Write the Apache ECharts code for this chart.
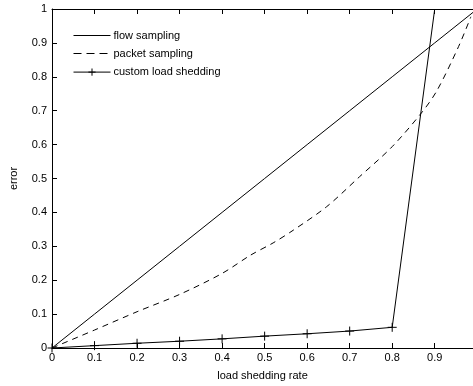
<!DOCTYPE html>
<html>
<head>
<meta charset="utf-8">
<script src="https://cdn.jsdelivr.net/npm/echarts@6/dist/echarts.min.js"></script>
<style>html,body{margin:0;padding:0;background:#fff;}#c{width:473px;height:386px;}</style>
</head>
<body>
<div id="c"></div>
<script>
const seriesNames = ['flow sampling', 'packet sampling', 'custom load shedding'];
const flowX = [0, 0.1, 0.2, 0.3, 0.4, 0.5, 0.6, 0.7, 0.8, 0.9, 0.99];
const flowY = [0, 0.1, 0.2, 0.3, 0.4, 0.5, 0.6, 0.7, 0.8, 0.9, 0.99];
const packetX = [0, 0.1, 0.2, 0.3, 0.4, 0.467, 0.52, 0.568, 0.646, 0.723, 0.8, 0.871, 0.906, 0.956, 0.985];
const packetY = [0, 0.053, 0.107, 0.158, 0.22, 0.274, 0.31, 0.348, 0.417, 0.505, 0.594, 0.697, 0.761, 0.889, 0.977];
const customX = [0, 0.1, 0.2, 0.3, 0.4, 0.5, 0.6, 0.7, 0.8, 0.9];
const customY = [0, 0.007, 0.014, 0.02, 0.027, 0.035, 0.042, 0.05, 0.061, 1.0];
const xTicks = [0, 0.1, 0.2, 0.3, 0.4, 0.5, 0.6, 0.7, 0.8, 0.9];
const yTicks = [0, 0.1, 0.2, 0.3, 0.4, 0.5, 0.6, 0.7, 0.8, 0.9, 1];

const font = 'Liberation Sans, Arial, Helvetica, sans-serif';
const zip = (xs, ys) => xs.map((x, i) => [x, ys[i]]);
const plus = 'path://M0,-4L0,4M-4,0L4,0';

const chart = echarts.init(document.getElementById('c'), null, {renderer: 'canvas'});
const customData = zip(customX, customY).map((p, i) =>
  i === customX.length - 1 ? {value: p, symbol: 'none'} : p);

chart.setOption({
  animation: false,
  textStyle: {fontFamily: font},
  grid: {left: 48, right: 0, top: 9, bottom: 38, containLabel: false},
  legend: {
    orient: 'vertical', left: 73, top: 30, padding: 0,
    itemWidth: 37, itemHeight: 9, itemGap: 7,
    textStyle: {fontSize: 11, color: '#000', fontFamily: font, padding: [0, 0, 0, -2]},
    data: [
      {name: seriesNames[0], itemStyle: {opacity: 0}, lineStyle: {width: 1, color: '#000', type: 'solid'}},
      {name: seriesNames[1], itemStyle: {opacity: 0}, lineStyle: {width: 1, color: '#000', type: [8, 5]}},
      {name: seriesNames[2], itemStyle: {color: 'none', borderColor: '#000', borderWidth: 1}, lineStyle: {width: 1, color: '#000', type: 'solid'}}
    ]
  },
  xAxis: [{
    type: 'value', min: 0, max: 0.99, interval: 0.1,
    name: 'load shedding rate', nameLocation: 'middle', nameGap: 22,
    nameTextStyle: {fontSize: 11, color: '#000', fontFamily: font},
    axisLine: {onZero: false, lineStyle: {color: '#000', width: 1}},
    axisTick: {inside: true, length: 5, lineStyle: {color: '#000'}},
    axisLabel: {color: '#000', fontSize: 11, margin: 4, showMaxLabel: false, fontFamily: font,
      formatter: v => xTicks.includes(Math.round(v * 10) / 10) && Math.abs(v - Math.round(v * 10) / 10) < 1e-9 ? String(Math.round(v * 10) / 10) : ''},
    splitLine: {show: false}
  }, {
    type: 'value', min: 0, max: 0.99, interval: 0.1, position: 'top',
    axisLine: {onZero: false, lineStyle: {color: '#000', width: 1}},
    axisTick: {inside: true, length: 5, lineStyle: {color: '#000'}},
    axisLabel: {show: false}, splitLine: {show: false}
  }],
  yAxis: {
    type: 'value', min: 0, max: 1, interval: 0.1,
    name: 'error', nameLocation: 'middle', nameGap: 33, nameRotate: 90,
    nameTextStyle: {fontSize: 11, color: '#000', fontFamily: font},
    axisLine: {show: true, onZero: false, lineStyle: {color: '#000', width: 1}},
    axisTick: {show: true, inside: true, length: 5, lineStyle: {color: '#000'}},
    axisLabel: {color: '#000', fontSize: 11, margin: 5, fontFamily: font,
      formatter: v => String(Math.round(v * 10) / 10)},
    splitLine: {show: false}
  },
  series: [{
    name: seriesNames[0], type: 'line', data: zip(flowX, flowY),
    symbol: 'none', lineStyle: {color: '#000', width: 1}, itemStyle: {color: '#000'}
  }, {
    name: seriesNames[1], type: 'line', data: zip(packetX, packetY), smooth: 0.3,
    symbol: 'none', lineStyle: {color: '#000', width: 1, type: [6, 5]}, itemStyle: {color: '#000'}
  }, {
    name: seriesNames[2], type: 'line', data: customData,
    symbol: plus, symbolSize: 9, showAllSymbol: true,
    lineStyle: {color: '#000', width: 1},
    itemStyle: {color: 'none', borderColor: '#000', borderWidth: 1}
  }]
});
</script>
</body>
</html>
